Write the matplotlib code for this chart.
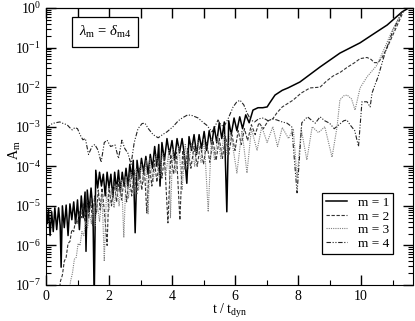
import matplotlib
matplotlib.use("Agg")
import matplotlib.pyplot as plt
import numpy as np

# data (t in t_dyn, values as log10 A_m)
m1_t = [0.00, 0.04, 0.08, 0.13, 0.18, 0.23, 0.28, 0.34, 0.40, 0.45, 0.48, 0.52, 0.58, 0.64, 0.70,
        0.76, 0.82, 0.88, 0.94, 1.00, 1.06, 1.12, 1.18, 1.24, 1.27, 1.31, 1.37, 1.43, 1.49, 1.53,
        1.58, 1.64, 1.70, 1.76, 1.82, 1.88, 1.94, 2.00, 2.06, 2.12, 2.18, 2.24, 2.30, 2.36, 2.42,
        2.48, 2.54, 2.60, 2.66, 2.72, 2.77, 2.83, 2.89, 2.96, 3.03, 3.10, 3.17, 3.24, 3.31, 3.38,
        3.45, 3.52, 3.58, 3.62, 3.68, 3.76, 3.84, 3.92, 4.00, 4.08, 4.16, 4.24, 4.32, 4.40, 4.47,
        4.54, 4.62, 4.70, 4.78, 4.86, 4.94, 5.02, 5.10, 5.18, 5.26, 5.34, 5.42, 5.50, 5.58, 5.66,
        5.74, 5.80, 5.88, 5.97, 6.06, 6.15, 6.24, 6.34, 6.45, 6.57, 6.73, 6.88, 7.02, 7.10, 7.27,
        7.50, 7.68, 8.06, 8.70, 9.33, 9.97, 10.35, 10.83, 11.30, 11.45]
m1_log = [-5.05, -5.45, -5.10, -5.75, -5.15, -5.65, -5.05, -5.60, -5.05, -5.50, -6.55, -5.00, -5.55, -4.98, -5.75,
          -4.95, -5.35, -4.90, -5.45, -4.85, -5.60, -4.75, -5.30, -4.65, -6.15, -4.60, -5.15, -4.55, -5.10, -7.40,
          -4.10, -4.55, -4.15, -4.50, -4.20, -4.75, -4.15, -4.55, -4.20, -4.80, -4.15, -4.60, -4.10, -4.65, -4.15,
          -4.50, -4.05, -4.50, -3.95, -4.30, -3.85, -5.68, -3.85, -4.30, -3.80, -4.15, -3.75, -4.20, -3.70, -4.05,
          -3.50, -4.00, -3.45, -4.50, -3.40, -3.85, -3.30, -3.70, -3.35, -3.85, -3.30, -3.65, -3.30, -3.75, -4.43,
          -3.25, -3.60, -3.20, -3.70, -3.20, -3.55, -3.12, -3.60, -3.10, -3.45, -3.00, -3.40, -2.90, -3.30, -2.88,
          -5.15, -2.85, -3.20, -2.78, -3.10, -2.75, -3.05, -2.70, -2.90, -2.58, -2.52, -2.52, -2.50, -2.40, -2.20,
          -2.08, -2.02, -1.87, -1.49, -1.14, -0.88, -0.68, -0.43, -0.10, -0.03]

m2_t = [0.40, 0.46, 0.52, 0.58, 0.64, 0.70, 0.76, 0.82, 0.88, 0.94, 1.00, 1.06, 1.12, 1.18, 1.24,
        1.30, 1.36, 1.42, 1.48, 1.54, 1.60, 1.66, 1.72, 1.78, 1.86, 1.94, 2.00, 2.08, 2.16, 2.24,
        2.32, 2.40, 2.48, 2.56, 2.64, 2.72, 2.80, 2.88, 2.96, 3.04, 3.12, 3.20, 3.28, 3.36, 3.44,
        3.52, 3.60, 3.68, 3.76, 3.87, 3.96, 4.05, 4.14, 4.25, 4.34, 4.42, 4.50, 4.60, 4.70, 4.80,
        4.90, 5.00, 5.10, 5.20, 5.30, 5.40, 5.50, 5.60, 5.70, 5.80, 5.90, 6.00, 6.10, 6.20, 6.30,
        6.40, 6.52, 6.64, 6.76, 6.90, 7.05, 7.20, 7.33, 7.50, 7.84, 8.10, 8.38, 8.70, 8.90, 9.11,
        9.35, 9.56, 9.80, 9.97, 10.19, 10.32, 10.42, 10.54, 10.67, 10.83, 11.08, 11.35]
m2_log = [-7.30, -6.90, -6.75, -6.40, -6.30, -5.95, -5.90, -5.60, -5.65, -5.35, -5.45, -5.15, -5.30, -4.95, -5.40,
          -4.85, -5.30, -4.80, -5.50, -4.75, -5.20, -4.60, -5.10, -4.55, -5.20, -6.00, -4.50, -5.00, -4.40, -4.90,
          -4.35, -4.85, -4.30, -4.90, -4.20, -4.75, -4.10, -4.70, -4.05, -4.60, -4.00, -5.18, -3.95, -4.50, -3.85,
          -4.40, -3.80, -4.30, -3.75, -5.43, -3.70, -4.20, -3.65, -5.36, -3.60, -4.10, -3.55, -4.05, -3.50, -4.00,
          -3.45, -3.95, -3.40, -3.90, -3.35, -3.85, -3.30, -3.80, -3.25, -3.70, -3.20, -3.60, -3.10, -3.45, -3.05,
          -3.35, -2.95, -3.20, -2.90, -3.05, -2.85, -2.80, -2.65, -2.50, -2.33, -2.15, -2.02, -2.00, -1.85, -1.72,
          -1.62, -1.50, -1.38, -1.28, -1.25, -1.30, -1.38, -1.38, -1.25, -1.00, -0.56, -0.08]

m3_t = [0.72, 0.78, 0.84, 0.90, 0.96, 1.02, 1.08, 1.14, 1.20, 1.26, 1.32, 1.38, 1.44, 1.50, 1.56,
        1.62, 1.70, 1.78, 1.85, 1.92, 2.00, 2.08, 2.16, 2.24, 2.32, 2.40, 2.47, 2.54, 2.62, 2.70,
        2.78, 2.86, 2.94, 3.02, 3.10, 3.18, 3.24, 3.30, 3.40, 3.50, 3.60, 3.70, 3.80, 3.90, 3.95,
        4.02, 4.12, 4.22, 4.32, 4.42, 4.52, 4.62, 4.72, 4.82, 4.92, 5.02, 5.15, 5.25, 5.35, 5.45,
        5.55, 5.65, 5.75, 5.86, 6.06, 6.22, 6.38, 6.52, 6.70, 6.85, 7.02, 7.20, 7.35, 7.50, 7.70,
        7.85, 7.97, 8.10, 8.28, 8.45, 8.65, 8.85, 9.08, 9.24, 9.33, 9.45, 9.56, 9.70, 9.81, 9.97,
        10.19, 10.50, 10.76, 11.00, 11.30]
m3_log = [-7.30, -6.90, -6.70, -6.35, -6.30, -5.95, -6.00, -5.65, -5.75, -5.40, -5.55, -5.20, -5.45, -5.05, -5.50,
          -4.90, -5.40, -4.70, -6.40, -4.65, -5.10, -4.55, -5.05, -4.45, -5.00, -4.35, -5.80, -4.25, -4.80, -4.15,
          -4.70, -4.05, -4.60, -3.95, -4.40, -3.85, -5.20, -3.80, -4.40, -3.70, -4.30, -3.65, -4.25, -3.60, -5.30,
          -3.55, -4.15, -3.50, -4.60, -3.45, -4.05, -3.40, -4.00, -3.35, -3.90, -3.30, -5.15, -3.30, -3.85, -3.25,
          -3.80, -3.20, -3.70, -3.15, -4.17, -3.10, -4.17, -3.05, -3.60, -3.00, -3.40, -3.00, -3.50, -3.02, -3.30,
          -3.05, -4.30, -3.05, -3.84, -3.00, -3.15, -3.00, -3.77, -3.00, -2.32, -2.22, -2.20, -2.30, -2.58, -2.02,
          -1.74, -1.45, -0.99, -0.55, -0.10]

m4_t = [0.00, 0.10, 0.20, 0.30, 0.44, 0.55, 0.67, 0.75, 0.83, 0.92, 1.00, 1.08, 1.17, 1.25, 1.35,
        1.46, 1.55, 1.65, 1.75, 1.85, 1.94, 2.05, 2.19, 2.30, 2.41, 2.50, 2.60, 2.70, 2.80, 2.92,
        3.05, 3.14, 3.25, 3.40, 3.56, 3.70, 3.84, 4.03, 4.20, 4.32, 4.50, 4.65, 4.83, 5.00, 5.10,
        5.27, 5.36, 5.46, 5.55, 5.65, 5.78, 5.94, 6.05, 6.16, 6.28, 6.38, 6.50, 6.62, 6.75, 6.90,
        7.05, 7.20, 7.33, 7.50, 7.65, 7.80, 7.97, 8.12, 8.30, 8.45, 8.55, 8.70, 8.85, 9.00, 9.15,
        9.30, 9.45, 9.55, 9.65, 9.80, 9.92, 10.03, 10.19, 10.29, 10.35, 10.44, 10.54, 10.76, 11.00, 11.30]
m4_log = [-3.02, -2.98, -2.92, -2.90, -2.88, -2.92, -2.95, -3.02, -3.08, -3.02, -3.05, -3.20, -3.33, -3.30, -3.70,
          -3.50, -3.45, -3.59, -3.90, -3.40, -3.34, -3.50, -3.46, -3.80, -3.34, -3.55, -3.67, -3.95, -3.40, -3.05,
          -2.92, -2.91, -3.05, -3.20, -3.28, -3.20, -3.13, -3.00, -2.85, -2.78, -2.70, -2.72, -2.78, -2.90, -2.96,
          -3.13, -3.00, -2.83, -2.95, -3.00, -2.80, -2.50, -2.38, -2.33, -2.45, -2.65, -2.83, -2.88, -2.80, -2.78,
          -2.85, -2.80, -2.83, -2.88, -2.91, -3.00, -4.67, -2.90, -2.75, -2.85, -2.91, -2.75, -2.85, -2.91, -3.05,
          -2.95, -2.85, -2.83, -2.95, -3.10, -3.50, -2.37, -2.37, -2.50, -2.15, -1.95, -1.74, -1.14, -0.60, -0.10]

labels = ['m = 1', 'm = 2', 'm = 3', 'm = 4']

plt.rcParams['font.family'] = 'Liberation Serif'
plt.rcParams['mathtext.fontset'] = 'custom'
plt.rcParams['mathtext.rm'] = 'Liberation Serif'
plt.rcParams['mathtext.it'] = 'Liberation Serif:italic'
plt.rcParams['axes.unicode_minus'] = False

fig = plt.figure(figsize=(4.15, 3.21), dpi=100)
ax = fig.add_axes([46 / 415, 1 - 285 / 321, 367 / 415, 277 / 321])

ax.plot(m1_t, 10 ** np.array(m1_log), color='black', lw=1.1, label=labels[0])
ax.plot(m2_t, 10 ** np.array(m2_log), color='#333333', lw=0.8, ls=(0, (3, 1.5)), label=labels[1])
ax.plot(m3_t, 10 ** np.array(m3_log), color='#808080', lw=0.8, ls=(0, (1, 1)), label=labels[2])
ax.plot(m4_t, 10 ** np.array(m4_log), color='#222222', lw=0.8, ls=(0, (4, 1.5, 1, 1.5, 1, 1.5)), label=labels[3])

ax.set_yscale('log')
ax.set_xlim(0, 11.65)
ax.set_ylim(1e-7, 1)
ax.set_xticks([0, 2, 4, 6, 8, 10])
ax.set_xticks([1, 3, 5, 7, 9, 11], minor=True)
ax.tick_params(which='both', direction='in', right=True, top=False, labelsize=10)
ax.tick_params(which='major', length=7, width=1)
ax.tick_params(which='minor', length=3.5, width=0.8)

top = ax.secondary_xaxis('top')
top.set_xticks(range(0, 12))
top.set_xticklabels([])
top.tick_params(direction='in', length=7, width=1)

ax.set_xlabel(r't / t$_{\rm dyn}$', fontsize=10)
ax.xaxis.set_label_coords(0.5, -0.06, transform=ax.transAxes)
ax.xaxis.label.set_va('top')
ax.set_ylabel(r'A$_{\rm m}$', fontsize=10)
ax.yaxis.set_label_coords(-0.062, 0.487, transform=ax.transAxes)

ax.text(0.161, 0.913, r'$\lambda_{\rm m}$ = $\delta_{\rm m4}$', transform=ax.transAxes,
        ha='center', va='center', fontsize=10.5,
        bbox=dict(boxstyle='square,pad=0.45', fc='white', ec='black', lw=0.9))

leg = ax.legend(loc='upper left', bbox_to_anchor=(0.752, 0.333), fontsize=9.5,
                frameon=True, fancybox=False, edgecolor='black', framealpha=1,
                handlelength=1.6, handletextpad=0.8, borderpad=0.3, labelspacing=0.1,
                borderaxespad=0)
leg.get_frame().set_linewidth(0.9)

fig.savefig('out.png', dpi=100)
